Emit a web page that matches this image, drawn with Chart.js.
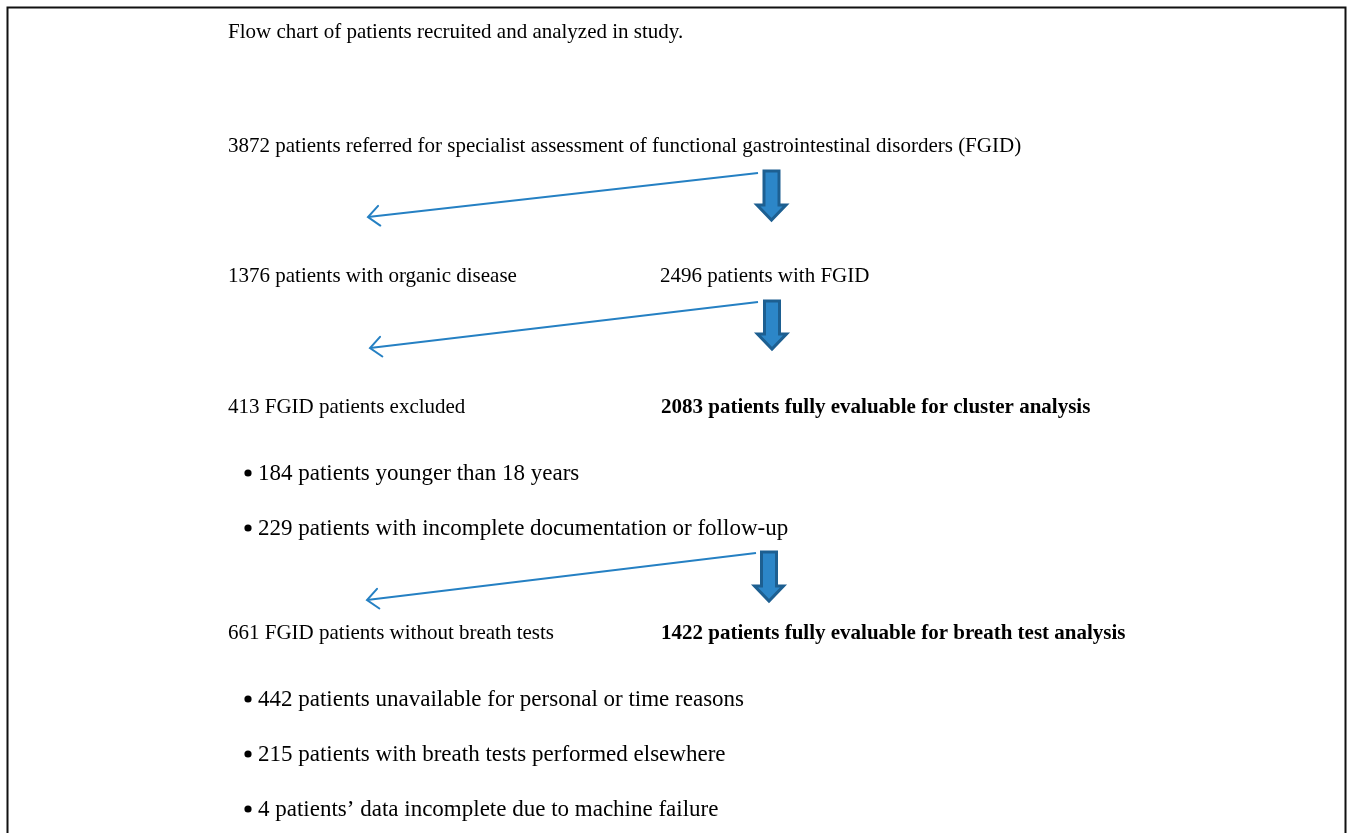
<!DOCTYPE html>
<html>
<head>
<meta charset="utf-8">
<script src="https://cdn.jsdelivr.net/npm/chart.js@4/dist/chart.umd.min.js"></script>
<style>
  html, body { margin: 0; padding: 0; background: #ffffff; }
  #wrap { width: 1349px; height: 833px; }
</style>
</head>
<body>
<div id="wrap"><canvas id="c" width="1349" height="833"></canvas></div>
<script>
// ---------- DATA ----------
const titleText = "Flow chart of patients recruited and analyzed in study.";
const nodeCounts = [3872, 1376, 2496, 413, 2083, 661, 1422];
const nodeLabels = [
  "patients referred for specialist assessment of functional gastrointestinal disorders (FGID)",
  "patients with organic disease",
  "patients with FGID",
  "FGID patients excluded",
  "patients fully evaluable for cluster analysis",
  "FGID patients without breath tests",
  "patients fully evaluable for breath test analysis"
];
const nodeBold = [false, false, false, false, true, false, true];
const excludedReasonCounts = [184, 229];
const excludedReasonLabels = [
  "patients younger than 18 years",
  "patients with incomplete documentation or follow-up"
];
const noBreathReasonCounts = [442, 215, 4];
const noBreathReasonLabels = [
  "patients unavailable for personal or time reasons",
  "patients with breath tests performed elsewhere",
  "patients\u2019 data incomplete due to machine failure"
];

// ---------- LAYOUT (scale units, x 0..1349, y 0..833 downward) ----------
const titlePos = [228, 38];
const nodePos = [[228, 152], [228, 282], [660, 282], [228, 413], [661, 413], [228, 639], [661, 639]];
const excludedReasonY = [480, 535];
const noBreathReasonY = [706, 761, 816];
const bulletX = 248, bulletTextX = 258;
const sideArrows = [ // [fromX, fromY, toX, toY]
  [758, 173, 368, 217],
  [758, 302, 370, 348],
  [756, 553, 367, 600]
];
const downArrows = [ // [centerX, topY, tipY]
  [771.5, 171, 220],
  [772, 301, 349],
  [769, 552, 601]
];
const framePts = [{x: 7.5, y: 845}, {x: 7.5, y: 7.5}, {x: 1345.5, y: 7.5}, {x: 1345.5, y: 845}];

const serif = '"Liberation Serif", "Times New Roman", serif';
const ARROW_BLUE = '#2580c3';

const flowPlugin = {
  id: 'flowText',
  afterDatasetsDraw(chart) {
    const ctx = chart.ctx;
    const xs = chart.scales.x, ys = chart.scales.y;
    const px = v => xs.getPixelForValue(v);
    const py = v => ys.getPixelForValue(v);
    ctx.save();
    ctx.fillStyle = '#000';
    ctx.textBaseline = 'alphabetic';
    ctx.textAlign = 'left';
    // title
    ctx.font = '21px ' + serif;
    ctx.fillText(titleText, px(titlePos[0]), py(titlePos[1]));
    // nodes
    nodeCounts.forEach((n, i) => {
      ctx.font = (nodeBold[i] ? 'bold ' : '') + '21px ' + serif;
      ctx.fillText(n + ' ' + nodeLabels[i], px(nodePos[i][0]), py(nodePos[i][1]));
    });
    // bullets
    const drawBullets = (counts, labels, ys_) => {
      counts.forEach((n, i) => {
        const y = py(ys_[i]);
        ctx.beginPath();
        ctx.arc(px(bulletX), y - 7, 3.6, 0, Math.PI * 2);
        ctx.fill();
        ctx.font = '23px ' + serif;
        ctx.fillText(n + ' ' + labels[i], px(bulletTextX), y);
      });
    };
    drawBullets(excludedReasonCounts, excludedReasonLabels, excludedReasonY);
    drawBullets(noBreathReasonCounts, noBreathReasonLabels, noBreathReasonY);

    // arrowheads on side arrows
    ctx.strokeStyle = ARROW_BLUE;
    ctx.lineWidth = 2;
    ctx.lineCap = 'round';
    sideArrows.forEach(a => {
      const x0 = px(a[0]), y0 = py(a[1]), x1 = px(a[2]), y1 = py(a[3]);
      const ang = Math.atan2(y1 - y0, x1 - x0);
      const L = 15, spread = 0.72;
      ctx.beginPath();
      ctx.moveTo(x1 - L * Math.cos(ang - spread), y1 - L * Math.sin(ang - spread));
      ctx.lineTo(x1, y1);
      ctx.lineTo(x1 - L * Math.cos(ang + spread), y1 - L * Math.sin(ang + spread));
      ctx.stroke();
    });

    // block down arrows
    downArrows.forEach(a => {
      const cx = px(a[0]), top = py(a[1]), tip = py(a[2]);
      const shaftHalf = 7.5, headHalf = 14.5;
      const headY = tip - 15;
      ctx.beginPath();
      ctx.moveTo(cx - shaftHalf, top);
      ctx.lineTo(cx + shaftHalf, top);
      ctx.lineTo(cx + shaftHalf, headY);
      ctx.lineTo(cx + headHalf, headY);
      ctx.lineTo(cx, tip);
      ctx.lineTo(cx - headHalf, headY);
      ctx.lineTo(cx - shaftHalf, headY);
      ctx.closePath();
      ctx.fillStyle = '#2c86c8';
      ctx.fill();
      ctx.lineJoin = 'miter';
      ctx.lineWidth = 3;
      ctx.strokeStyle = '#1d5f91';
      ctx.stroke();
    });
    ctx.restore();
  }
};

const datasets = [
  {
    label: 'frame',
    data: framePts,
    showLine: true,
    borderColor: '#111',
    borderWidth: 2,
    pointRadius: 0,
    fill: false,
    tension: 0
  }
].concat(sideArrows.map((a, i) => ({
  label: 'arrow' + i,
  data: [{x: a[0], y: a[1]}, {x: a[2], y: a[3]}],
  showLine: true,
  borderColor: ARROW_BLUE,
  borderWidth: 2,
  pointRadius: 0,
  fill: false
})));

new Chart(document.getElementById('c'), {
  type: 'scatter',
  data: { datasets },
  options: {
    responsive: false,
    animation: false,
    devicePixelRatio: 1,
    layout: { padding: 0 },
    plugins: { legend: { display: false }, tooltip: { enabled: false }, title: { display: false } },
    scales: {
      x: { type: 'linear', min: 0, max: 1349, display: false },
      y: { type: 'linear', min: 0, max: 833, reverse: true, display: false }
    }
  },
  plugins: [flowPlugin]
});
</script>
</body>
</html>
